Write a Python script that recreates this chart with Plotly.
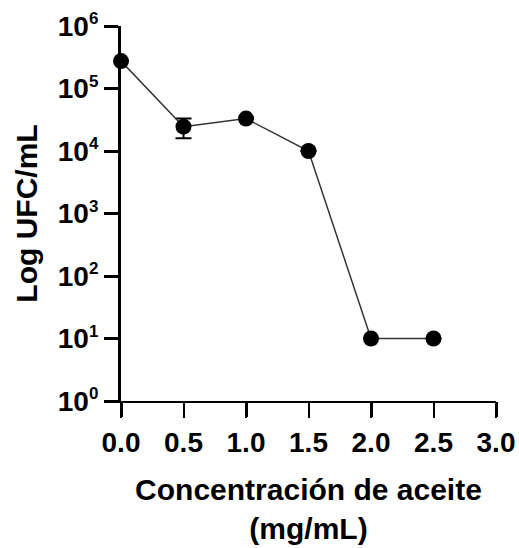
import plotly.graph_objects as go

# Data
conc = [0.0, 0.5, 1.0, 1.5, 2.0, 2.5]
ufc = [2.75e5, 2.45e4, 3.3e4, 1.0e4, 10, 10]
ufc_err = [0, 8500, 0, 0, 0, 0]

x_ticks = [0.0, 0.5, 1.0, 1.5, 2.0, 2.5, 3.0]
x_ticktext = ["0.0", "0.5", "1.0", "1.5", "2.0", "2.5", "3.0"]
x_major = [0, 1, 2, 3]
y_ticks = [1, 10, 100, 1e3, 1e4, 1e5, 1e6]
y_ticktext = ["10<sup><span style='font-size:17px'>%d</span></sup>" % i for i in range(7)]

FONT = "Liberation Sans, Arial, sans-serif"

fig = go.Figure()
fig.add_trace(go.Scatter(
    x=conc, y=ufc,
    mode="lines+markers",
    line=dict(color="#333333", width=1.5),
    marker=dict(color="black", size=16),
    error_y=dict(type="data", array=ufc_err, visible=True, color="black", thickness=2, width=8),
    cliponaxis=False,
    showlegend=False,
))
# helper trace for the overlay axis carrying the thick major ticks
fig.add_trace(go.Scatter(x=[0, 3], y=[1, 1], xaxis="x2", mode="none",
                         hoverinfo="skip", showlegend=False))

fig.update_layout(
    width=519, height=548,
    margin=dict(l=121, r=23, t=26, b=147),
    paper_bgcolor="white", plot_bgcolor="white",
    font=dict(family=FONT, color="black"),
    xaxis=dict(
        range=[0, 3], tickvals=x_ticks, ticktext=x_ticktext,
        showline=True, linecolor="black", linewidth=2,
        ticks="outside", ticklen=15, tickwidth=2, tickcolor="black",
        showgrid=False, zeroline=False, automargin=False,
        tickfont=dict(size=28, family=FONT, weight="bold"),
        title=dict(text="Concentración de aceite<br>(mg/mL)",
                   font=dict(size=30, family=FONT, weight="bold"), standoff=22),
    ),
    xaxis2=dict(
        range=[0, 3], overlaying="x", anchor="y", side="bottom",
        tickvals=x_major, showticklabels=False, showline=False,
        ticks="outside", ticklen=15, tickwidth=3, tickcolor="black",
        showgrid=False, zeroline=False, automargin=False,
    ),
    yaxis=dict(
        type="log", range=[0, 6], tickvals=y_ticks, ticktext=y_ticktext,
        showline=True, linecolor="black", linewidth=3,
        ticks="outside", ticklen=14, tickwidth=3, tickcolor="black",
        showgrid=False, zeroline=False, automargin=False,
        tickfont=dict(size=28, family=FONT, weight="bold"),
        title=dict(text="Log UFC/mL", font=dict(size=30, family=FONT, weight="bold"), standoff=12),
    ),
)

fig.write_html("out.html", post_script="document.body.style.margin='0px';",
               config={"displayModeBar": False})
